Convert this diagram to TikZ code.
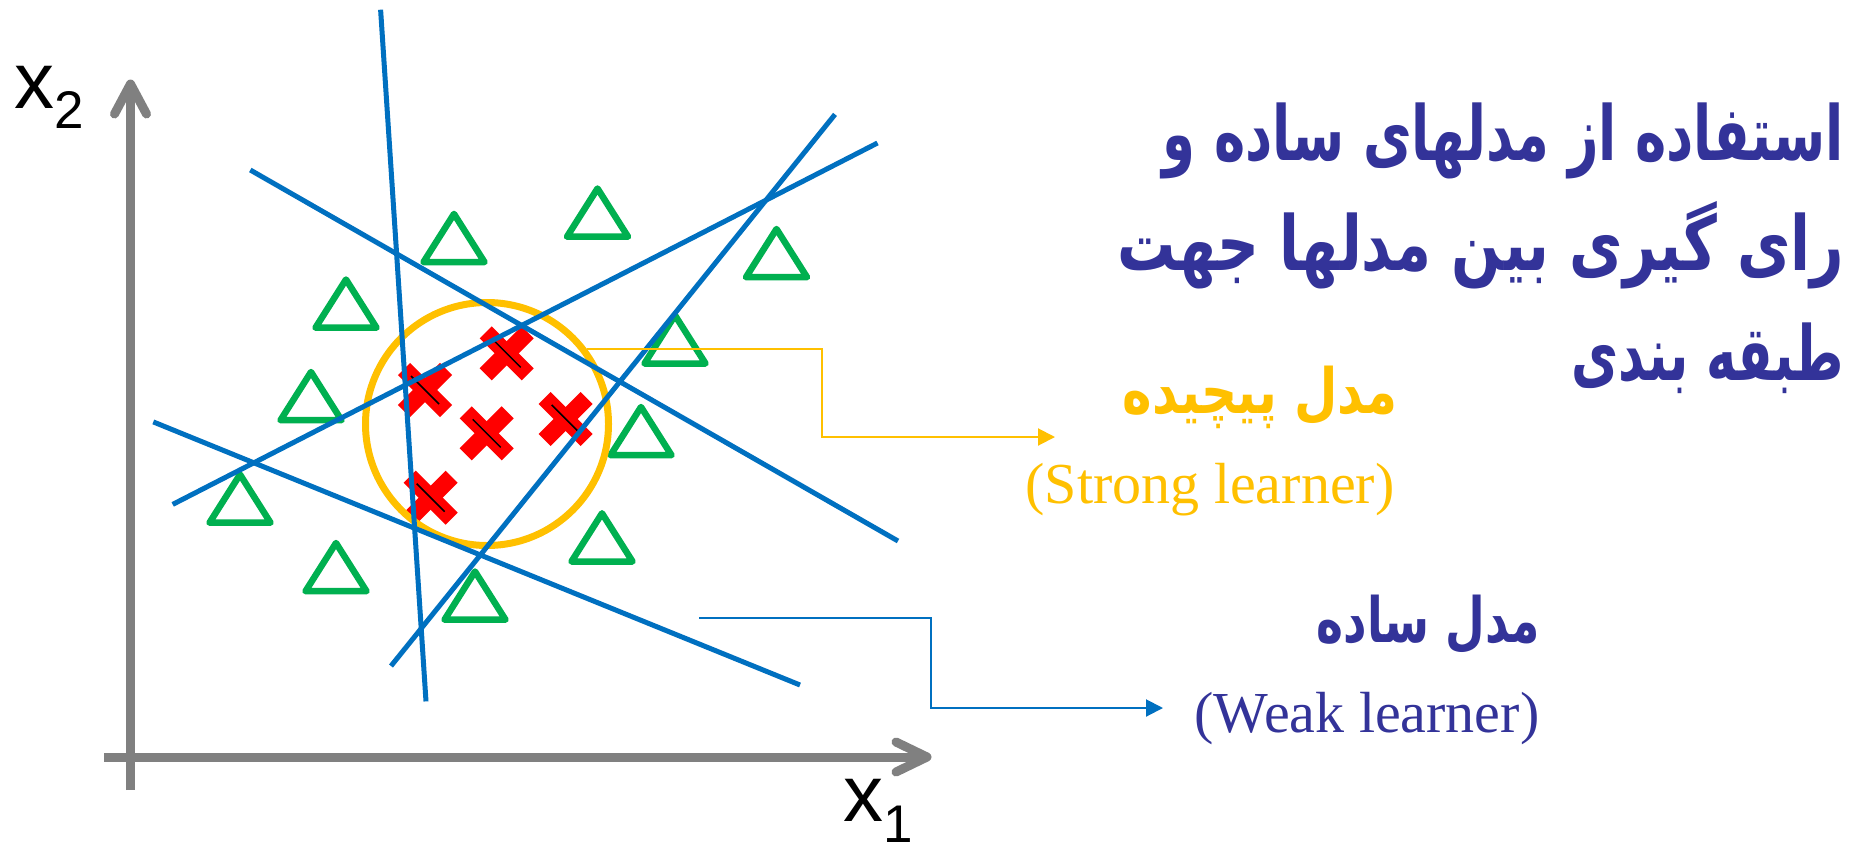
\documentclass[tikz,border=0pt]{standalone}
\usepackage{fontspec}
\usepackage{graphicx}
\setmainfont{Liberation Serif}
\newfontfamily\arabicfont[Script=Arabic]{DejaVu Sans}
\newfontfamily\axisfont{Liberation Sans}
\TeXXeTstate=1
\usetikzlibrary{arrows.meta,calc}
\definecolor{lineblue}{HTML}{0070C0}
\definecolor{trigreen}{HTML}{00B050}
\definecolor{ringyellow}{HTML}{FFC000}
\definecolor{textindigo}{HTML}{333399}
\definecolor{axisgray}{HTML}{808080}
\tikzset{
  axisline/.style={draw=axisgray,line width=9pt},
  axishead/.style={draw=axisgray,line width=9pt,line cap=round,line join=round},
  weak/.style={draw=lineblue,line width=5pt},
  tri/.style={draw=trigreen,line width=6.5pt,line join=round},
  crossarm/.style={draw=red,line width=17pt},
  crossmark/.style={draw=black,line width=1.5pt},
  ring/.style={circle,draw=ringyellow,line width=7pt,minimum size=243pt,inner sep=0pt},
  callout/.style={line width=2pt,-{Triangle[length=17pt,width=17pt]}},
  fa/.style={inner sep=0pt,text=textindigo,font=\arabicfont\bfseries\fontsize{66}{70}\selectfont},
  falabel/.style={inner sep=0pt,font=\arabicfont\bfseries\fontsize{50}{54}\selectfont},
  enlabel/.style={inner sep=0pt,anchor=base,font=\fontsize{58}{60}\selectfont},
  axislabel/.style={inner sep=0pt,anchor=base west,font=\axisfont\fontsize{80}{80}\selectfont},
  pics/greentri/.style={code={\draw[tri] (0,3.5) -- (30.5,51.7) -- (-30.5,51.7) -- cycle;}},
  pics/redcross/.style={code={
    \draw[crossarm] (-21,-21) -- (21,21);
    \draw[crossarm] (-21,21) -- (21,-21);
    \draw[crossmark] (-14,-14) -- (14,14);}}
}
\begin{document}
\begin{tikzpicture}[x=1pt,y=-1pt]
\fill[white] (0,0) rectangle (1868,846);
\useasboundingbox (0,0) rectangle (1868,846);

% axes
\coordinate (ybot) at (130.5,790);
\coordinate (ytip) at (130.5,84);
\coordinate (xleft) at (104,757);
\coordinate (xtip) at (927,757);
\draw[axisline] (ybot) -- (ytip);
\draw[axishead] ($(ytip)+(-16,30)$) -- (ytip) -- ($(ytip)+(16,30)$);
\draw[axisline] (xleft) -- (xtip);
\draw[axishead] ($(xtip)+(-31,-15)$) -- (xtip) -- ($(xtip)+(-31,15)$);
\node[axislabel] (xtwo) at (14,108) {x\raisebox{-20pt}{\fontsize{53}{53}\selectfont 2}};
\node[axislabel] (xone) at (843,821) {x\raisebox{-21pt}{\fontsize{53}{53}\selectfont 1}};

% triangles
\foreach \px/\py in {454/210.4,597.5/185,776.5/225.5,346/276,675/311.8,311/368.5,641/403.5,240/471,602/509.8,336/539.5,475/568}
  \pic at (\px,\py) {greentri};

% crosses
\foreach \px/\py in {506.7/353.3,425/390,486.7/433.3,565.7/419,430.7/497.7}
  \pic at (\px,\py) {redcross};

% ring
\node[ring] (ring) at (487,424) {};

% weak learners
\draw[weak] (380.6,9.7) -- (426,701.4);
\draw[weak] (250.3,170) -- (898,541);
\draw[weak] (153.3,421.9) -- (800,685);
\draw[weak] (172.7,504.4) -- (877.5,143);
\draw[weak] (391,666) -- (835,114.4);

% title
\node[fa,anchor=base east] (title1) at (1844,160) {\resizebox{681pt}{1.15\height}{\beginR استفاده از مدلهای ساده و\endR}};
\node[fa,anchor=base east] (title2) at (1844,270) {\resizebox{726pt}{1.15\height}{\beginR رای گیری بین مدلها جهت\endR}};
\node[fa,anchor=base east] (title3) at (1844,380) {\resizebox{272pt}{1.15\height}{\beginR طبقه بندی\endR}};

% labels
\node[falabel,text=ringyellow,anchor=base east] (strongfa) at (1398,413) {\resizebox{275pt}{1.25\height}{\beginR مدل پیچیده\endR}};
\node[enlabel,text=ringyellow] (strongen) at (1210,503) {(Strong learner)};
\node[falabel,text=textindigo,anchor=base east] (weakfa) at (1540,642) {\resizebox{223pt}{1.25\height}{\beginR مدل ساده\endR}};
\node[enlabel,text=textindigo] (weaken) at (1367,732) {(Weak learner)};

% callouts
\coordinate (sbend) at (822,437);
\coordinate (stip) at (1055,437);
\draw[callout,draw=ringyellow] (ring.37) -| (sbend) -- (stip);
\coordinate (wstart) at (699,617.7);
\coordinate (wbend) at (931,708);
\coordinate (wtip) at (1163,708);
\draw[callout,draw=lineblue] (wstart) -| (wbend) -- (wtip);
\end{tikzpicture}
\end{document}
